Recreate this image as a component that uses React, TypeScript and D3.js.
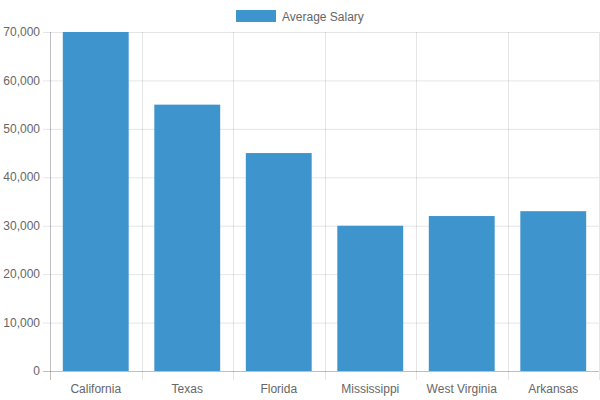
import React from "react";
import * as d3 from "d3";

const categories = ["California", "Texas", "Florida", "Mississippi", "West Virginia", "Arkansas"];
const salaries = [70000, 55000, 45000, 30000, 32000, 33000];
const yTicks = [0, 10000, 20000, 30000, 40000, 50000, 60000, 70000];
const seriesName = "Average Salary";

const W = 600;
const H = 400;
const left = 50;
const right = 599;
const top = 32;
const bottom = 371;
const font = "'Liberation Sans', Arial, sans-serif";
const txt = "#666";
const grid = "rgba(0,0,0,0.1)";
const barColor = "#3e95cd";

export default function App() {
  const x = d3.scaleBand<string>().domain(categories).range([left, right]).paddingInner(0).paddingOuter(0);
  const y = d3.scaleLinear().domain([0, 70000]).range([bottom, top]);
  const bw = x.bandwidth();
  const barW = bw * 0.72;
  const fmt = d3.format(",");
  return (
    <svg width={W} height={H} style={{ position: "absolute", left: 0, top: 0 }}>
      <rect x={0} y={0} width={W} height={H} fill="#fff" />
      {/* horizontal grid */}
      {yTicks.map((t) => (
        <line key={"h" + t} x1={left - 7} x2={right} y1={y(t) + 0.5} y2={y(t) + 0.5}
          stroke={t === 0 ? "rgba(0,0,0,0.25)" : grid} strokeWidth={1} />
      ))}
      {/* vertical grid */}
      {d3.range(categories.length + 1).map((i) => {
        const xv = Math.round(left + i * bw) + 0.5;
        return (
          <line key={"v" + i} x1={xv} x2={xv} y1={top} y2={bottom + 9}
            stroke={i === 0 ? "rgba(0,0,0,0.25)" : grid} strokeWidth={1} />
        );
      })}
      {/* bars */}
      {categories.map((c, i) => {
        const cx = (x(c) as number) + bw / 2;
        return (
          <rect key={c} x={cx - barW / 2} y={y(salaries[i])} width={barW}
            height={bottom - y(salaries[i])} fill={barColor} />
        );
      })}
      {/* y labels */}
      {yTicks.map((t) => (
        <text key={"yl" + t} x={40} y={y(t)} dy="0.35em" textAnchor="end"
          fontFamily={font} fontSize={12} fill={txt}>{fmt(t)}</text>
      ))}
      {/* x labels */}
      {categories.map((c) => (
        <text key={"xl" + c} x={(x(c) as number) + bw / 2} y={393} textAnchor="middle"
          fontFamily={font} fontSize={12} fill={txt}>{c}</text>
      ))}
      {/* legend */}
      <rect x={236} y={10} width={40} height={12} fill={barColor} />
      <text x={282} y={20.5} fontFamily={font} fontSize={12} fill={txt}>{seriesName}</text>
    </svg>
  );
}
